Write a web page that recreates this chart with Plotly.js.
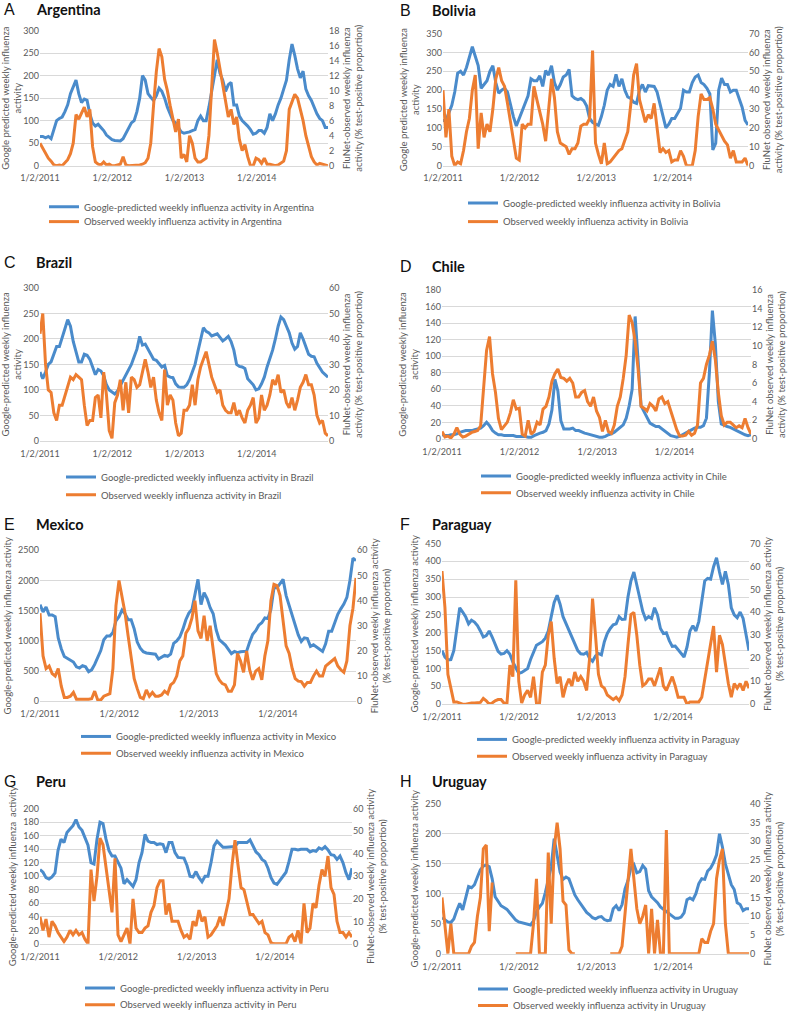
<!DOCTYPE html>
<html><head><meta charset="utf-8">
<script src="https://cdn.plot.ly/plotly-3.0.1.min.js"></script>
<style>html,body{margin:0;padding:0;background:#fff}#chart{width:789px;height:1020px}</style>
</head><body><div id="chart"></div>
<script>
// ---- x categories: biweekly dates ----
const START_DATE = '2011-01-02';
const STEP_DAYS = 14;
const N_POINTS = 105;
const weeks = [];
for (let i = 0; i < N_POINTS; i++) {
  weeks.push(new Date(Date.parse(START_DATE + 'T00:00:00Z') + i * STEP_DAYS * 864e5).toISOString().slice(0, 10));
}
const tickVals = ['2011-01-02', '2012-01-02', '2013-01-02', '2014-01-02'];
const tickText = ['1/2/2011', '1/2/2012', '1/2/2013', '1/2/2014'];

// ---- data ----
const argG = [65,65,62,65,60,80,100,105,108,120, 135,160,175,190,160,140,148,145,115,95, 88,92,85,78,68,62,58,56,56,55, 60,72,85,95,100,120,150,200,190,160, 152,145,155,172,165,150,130,115,100,95, 85,75,72,73,75,78,80,100,110,100, 100,130,165,200,235,205,190,165,180,185, 135,135,110,100,95,88,80,70,72,78, 78,72,85,115,100,115,135,150,170,190, 235,270,245,215,195,210,170,155,145,130, 115,105,100,85,85];
const argO = [3.0,2.3,1.8,1.0,0.6,0.1,0,0.1,0,0.4, 0.8,1.6,3.0,6.8,6.2,7.0,7.8,6.5,7.5,2.5, 0.5,0.2,0.1,0.5,0.1,0.2,0,0,0.1,0.2, 1.2,0.1,0,0,0,0.1,0.1,0.2,0.4,1.0, 3.0,8.0,12.5,15.6,14.5,11.5,10.0,8.0,6.0,4.5, 6.2,1.0,1.5,0.5,4.0,3.0,1.0,0.5,0.5,0.8, 1.0,4.0,11.0,16.8,15.0,13.0,11.0,9.0,6.5,7.5, 5.5,6.5,3.5,2.0,2.8,1.2,0,0,1.0,0.8, 0.3,1.0,0.2,0.2,0.1,0,0.1,0.3,0.6,2.0, 7.5,8.5,9.5,9.0,7.5,6.0,4.0,2.5,1.2,0.5, 0.1,0.3,0.2,0,0];

const bolG = [120,120,140,160,195,245,250,240,260,290, 315,290,265,205,215,225,250,265,220,192, 200,205,195,160,130,105,125,145,170,185, 230,225,225,238,210,252,240,265,220,200, 215,235,240,255,185,178,175,178,172,158, 125,115,110,107,130,160,200,215,210,242, 210,230,200,182,178,168,165,200,215,195, 212,210,210,195,165,130,100,110,125,125, 138,152,200,195,195,220,235,240,220,215, 205,190,42,60,200,232,215,215,195,200, 200,175,155,120,108];
const bolO = [40,15,30,5,0,2,1,8,18,25, 40,48,9,28,15,22,18,30,46,52, 45,42,33,24,14,4,3,22,20,22, 22,42,35,28,22,13,28,46,36,18, 12,11,10,6,9,9,12,21,22,22, 25,61,12,6,1,12,1,2,4,6, 8,9,13,18,32,48,54,35,29,23, 27,25,33,20,7,9,7,8,2,3, 3,8,5,0,0,0,8,26,38,35, 35,36,30,22,19,16,13,11,4,8, 2,2,2,4,0];

const braG = [135,122,135,150,155,170,185,185,205,220, 238,225,195,175,155,155,170,168,160,145, 130,140,137,128,110,100,95,92,98,108, 120,128,138,150,165,180,205,188,190,180, 170,160,158,152,145,148,128,125,124,112, 106,105,105,110,120,135,150,175,200,222, 215,212,206,208,210,203,196,200,205,195, 178,150,146,145,142,122,115,110,100,102, 112,125,145,160,178,200,225,243,238,225, 212,192,180,185,212,200,185,170,166,165, 152,142,135,130,125];
const braO = [42,50,30,20,19,11,8,14,14,18, 22,25,24,26,25,24,14,6,8,8, 17,18,9,27,18,4,1,15,18,24, 12,23,11,25,24,21,22,27,32,27, 21,25,16,11,8,28,14,18,16,7, 2,3,12,12,14,22,14,24,29,32, 35,30,25,22,19,20,14,12,11,11, 15,10,12,9,7,12,14,17,7,9, 18,12,14,18,24,22,26,19,20,15, 13,17,12,16,21,23,26,22,22,18, 10,7,8,3,2];

const chiG = [5,4,4,5,5,6,8,9,10,10, 10,11,12,13,16,20,16,10,7,5, 5,4,4,4,4,3,3,3,3,2, 2,4,6,7,8,10,18,35,72,58, 22,12,12,12,13,10,10,8,7,6, 5,4,3,2,2,3,5,6,8,11, 13,17,25,40,60,148,95,40,33,25, 19,17,15,15,12,9,6,4,3,2, 3,5,8,10,12,13,14,14,16,25, 80,155,115,45,18,16,15,14,12,10, 8,6,5,4,5];
const chiO = [0.8,0.2,0.3,0.1,0.5,1.2,0.5,0.2,0.3,0.5, 0.7,0.8,0.9,1.4,5.5,9.5,11.0,7.0,5.0,2.2, 1.0,1.4,1.8,2.8,4.2,3.2,3.3,0.5,0.3,2.0, 0.5,0.8,1.8,1.5,3.2,3.5,4.5,6.2,7.0,7.5, 6.6,6.5,6.2,6.5,6.0,4.5,4.5,5.0,5.2,4.0, 3.5,4.5,3.0,2.3,0.8,2.0,0.8,0.6,1.5,3.5, 4.5,6.5,9.0,13.3,12.5,10.5,7.5,3.5,3.3,3.0, 3.8,3.5,3.0,4.3,4.5,3.8,4.0,3.0,2.0,1.0, 0.3,0.3,0.4,0.8,0.4,0.6,1.5,6.0,6.5,8.0, 9.0,10.5,8.5,5.0,2.5,1.5,1.8,1.8,1.5,1.2, 1.4,1.2,2.2,1.2,0.5];

const mexG = [1600,1480,1560,1430,1430,1400,1050,870,740,710, 670,650,570,550,590,570,490,520,610,740, 840,1020,1080,1080,1140,1330,1400,1510,1450,1350, 1350,1200,980,880,820,800,790,790,780,700, 730,760,745,780,960,1000,1065,1190,1350,1460, 1520,1800,2020,1600,1800,1700,1550,1450,1180,1020, 980,930,860,790,825,805,820,830,830,980, 1110,1170,1260,1300,1380,1370,1520,1880,1880,1950, 2020,1750,1590,1400,1240,1100,990,1050,1040,910, 935,900,855,825,950,1160,1160,1300,1440,1530, 1610,1720,2000,2370,2330];
const mexO = [35,18,13,14,11,10,13,6,1.5,1.5, 2,3.5,0.8,0.8,0.5,0.8,0.8,1,4,0.5, 0.5,2,2.5,3,13,38,48,42,35,26, 17,9,5,1.5,1,4.5,2,3.5,2,2, 2.5,4,3,6.5,7.5,10,16,18,27,29, 33,40,28,25,34,24,30,20,11,8.5, 7,6.5,4,4,6.5,19,16,11.5,20,12.5, 8.5,12,13,8.5,18,24,40,46.5,46,42, 31,22,19,13,9,8,7.8,6,7.5,7.5, 10,12,10,10,14,15,16,17,14,12.5, 11.5,16,30,37,49];

const parG = [150,132,124,125,150,215,270,258,245,225, 235,230,220,205,188,192,205,188,170,148, 140,142,150,140,118,100,86,89,95,100, 125,148,165,170,175,185,205,245,285,305, 280,245,225,205,190,168,150,141,140,145, 128,120,135,142,138,175,198,212,222,225, 245,237,238,300,345,370,335,292,260,238, 245,240,270,250,212,198,200,178,162,163, 153,140,132,160,205,220,205,232,285,345, 352,350,385,410,370,335,372,335,270,250, 242,258,240,198,150];
const parO = [58,42,13,7,1,1,0.5,0,0,0.3, 0.5,0.5,0.5,0.8,2.5,1.5,0,0.5,1.5,2, 2,0.5,0.3,17,12,54,10,0.5,4,6, 3,12,0.5,0,14,17,30,36,20,9, 12,3,8,11,8,14,10,12,10,6, 20,46,30,13,8,7,4,3,2,3, 1.5,4,12,26,39,40,30,17,8,9, 11,11,8,12,16,8,6,9,12,8, 3,3,3,0,1,1,1,1,3,11, 20,26,34,14,30,26,17,9,3,9, 7,9,6,10,7];

const peruG = [110,106,98,96,99,105,138,155,150,165, 170,175,184,173,168,158,146,120,118,155, 180,178,155,138,130,130,122,112,89,95, 90,85,95,120,135,162,152,150,150,147, 148,147,135,150,150,135,128,127,127,116, 100,99,107,98,92,100,100,120,145,152, 147,143,143,143,143,144,150,150,150,150, 154,145,136,132,125,122,112,98,90,88, 94,99,106,122,140,140,139,140,140,140, 136,138,137,142,140,144,139,132,131,125, 130,120,105,95,112];
const peruO = [12,6,11,3,10,8,5,3,1,3, 6,4,6,4,5,2,0,33,19,30, 47,44,35,24,14,38,4,1,4,7, 0,20,7,5,5,7,8,14,17,25, 28,28,13,18,10,10,10,6,3,4, 2,10,8,15,10,12,3,4,6,8, 12,8,14,20,35,46,35,25,24,18, 13,13,11,9,10,5,4,0.5,0,0, 0,0,0,3,4,1,6,0,18,5, 7,18,16,26,33,30,39,25,22,10, 5,5,3,5,3];

const uruG = [60,57,53,52,58,72,84,73,92,112, 110,115,128,140,146,148,145,125,95,87, 80,77,74,68,62,56,53,52,51,49, 48,55,70,78,84,102,122,145,192,165, 136,124,128,125,112,98,90,83,77,69, 65,60,58,61,62,57,55,56,75,80, 72,82,108,122,144,149,135,137,147,141, 105,95,90,85,78,74,70,66,62,59, 59,61,68,90,93,90,100,117,125,124, 138,143,152,165,200,178,150,130,115,107, 85,82,72,75,75];
const uruO = [15,7,0,8,0,0,0,0,0,0, 2,3,10,15,28,29,6,19,null,null, null,null,null,null,null,0,0,0,0,0, 0,8,20,0,0,0,27,8,28,35, 28,14,13,1,0,0,null,null,null,null, null,null,null,null,null,null,null,0,0,0, 0,2,10,20,28,20,12,8,10,13, 0,12,0,9,0,0,33,0,0,0, 0,0,0,0,0,0,0,0,4,3, 3,6,8,20,25,28,8,0,0,0, 0,0,0,0,0];

const countries = ['Argentina','Bolivia','Brazil','Chile','Mexico','Paraguay','Peru','Uruguay'];
const letters = ['A','B','C','D','E','F','G','H'];
const googleSeries = [argG, bolG, braG, chiG, mexG, parG, peruG, uruG];
const observedSeries = [argO, bolO, braO, chiO, mexO, parO, peruO, uruO];

// axis ranges / steps
const leftMax  = [300, 350, 300, 180, 2500, 450, 200, 250];
const leftStep = [50, 50, 50, 20, 500, 50, 20, 50];
const rightMax = [18, 70, 60, 16, 60, 70, 60, 40];
const rightStep= [2, 10, 10, 2, 10, 10, 10, 5];
const leftTitles = [
  'Google predicted weekly influenza<br>activity',
  'Google predicted weekly influenza<br>activity',
  'Google-predicted weekly influenza<br>activity',
  'Google-predicted weekly influenza<br>activity',
  'Google-predicted weekly influenza activity',
  'Google-predicted weekly influenza activity',
  'Google-predicted weekly influenza  activity',
  'Google-predicted weekly influenza activity'
];
const rightTitles = [
  'FluNet-observed weekly influenza<br>activity (% test-positive proportion)',
  'FluNet observed weekly influenza<br>activity (% test-positive proportion)',
  'FluNet-observed weekly influenza<br>activity (% test-positive proportion)',
  'FluNet observed weekly influenza<br>activity (% test-positive proportion)',
  'FluNet-observed weekly influenza activity<br>(% test-positive proportion)',
  'FluNet observed weekly influenza activity<br>(% test-positive proportion)',
  'FluNet-observed weekly influenza activity<br>(% test-positive proportion)',
  'FluNet observed weekly influenza activity<br>(% test-positive proportion)'
];

// ---- layout geometry (pixels) ----
const W = 789, H = 1020;
const geo = [
  {x0:40,  x1:328, yt:31,  yb:168, tx:2,   ty:10,  lx:89,  ly1:205, ly2:220},
  {x0:443, x1:748, yt:34,  yb:168, tx:398, ty:11,  lx:508, ly1:201, ly2:220},
  {x0:40,  x1:328, yt:292, yb:447, tx:2,   ty:266, lx:106, ly1:479, ly2:497},
  {x0:442, x1:751, yt:294, yb:445, tx:398, ty:270, lx:521, ly1:478, ly2:495},
  {x0:40,  x1:356, yt:558, yb:711, tx:2,   ty:532, lx:121, ly1:742, ly2:759},
  {x0:442, x1:749, yt:551, yb:714, tx:398, ty:532, lx:517, ly1:745, ly2:762},
  {x0:40,  x1:352, yt:820, yb:957, tx:2,   ty:792, lx:125, ly1:997, ly2:1014},
  {x0:442, x1:749, yt:815, yb:967, tx:398, ty:792, lx:518, ly1:998, ly2:1015}
];

const BLUE = '#4a8bcb', ORANGE = '#ed7d31';
const FONT = 'Lato, "Open Sans", sans-serif';
const GREY = '#595959';

const traces = [];
const layout = {
  width: W, height: H,
  margin: {l:0, r:0, t:0, b:0},
  paper_bgcolor: '#fff', plot_bgcolor: 'rgba(0,0,0,0)',
  font: {family: FONT, color: GREY, size: 9},
  annotations: [],
  showlegend: true
};

function legendBox(x, yc) {
  return {
    x: (x - 45) / W, y: 1 - (yc - 10) / H, xanchor: 'left', yanchor: 'top',
    bgcolor: 'rgba(0,0,0,0)', borderwidth: 0, font: {size: 9.5, color: GREY, family: FONT},
    tracegroupgap: 0, itemwidth: 30
  };
}

for (let k = 0; k < 8; k++) {
  const g = geo[k];
  const xName = k === 0 ? 'x' : 'x' + (k + 1);
  const yL = 'y' + (2 * k + 1 === 1 ? '' : 2 * k + 1);
  const yR = 'y' + (2 * k + 2);
  const legA = 2 * k + 1 === 1 ? 'legend' : 'legend' + (2 * k + 1);
  const legB = 'legend' + (2 * k + 2);

  traces.push({
    type: 'scatter', mode: 'lines', x: weeks, y: googleSeries[k],
    xaxis: xName, yaxis: yL, legend: legA,
    name: 'Google-predicted weekly influenza activity in ' + countries[k],
    line: {color: BLUE, width: 3}, hoverinfo: 'skip'
  });
  traces.push({
    type: 'scatter', mode: 'lines', x: weeks, y: observedSeries[k],
    xaxis: xName, yaxis: yR, legend: legB, connectgaps: false,
    name: 'Observed weekly influenza activity in ' + countries[k],
    line: {color: ORANGE, width: 3}, hoverinfo: 'skip'
  });

  const xKey = k === 0 ? 'xaxis' : 'xaxis' + (k + 1);
  const yLKey = 'yaxis' + (2 * k + 1 === 1 ? '' : 2 * k + 1);
  const yRKey = 'yaxis' + (2 * k + 2);
  const dom = [1 - g.yb / H, 1 - g.yt / H];

  layout[xKey] = {
    domain: [g.x0 / W, g.x1 / W], anchor: yL, type: 'date',
    range: [weeks[0], weeks[weeks.length - 1]],
    tickmode: 'array', tickvals: tickVals, ticktext: tickText,
    showgrid: false, zeroline: false, showline: true, linecolor: '#d9d9d9', linewidth: 1,
    ticks: '', ticklabelstandoff: 4, tickfont: {size: 9, color: GREY, family: FONT}, automargin: false
  };
  layout[yLKey] = {
    domain: dom, anchor: xName, range: [0, leftMax[k]], dtick: leftStep[k], tick0: 0,
    showgrid: true, gridcolor: '#d9d9d9', gridwidth: 1, zeroline: false, showline: false,
    ticks: '', tickfont: {size: 9, color: GREY, family: FONT}, automargin: false,
    title: {text: leftTitles[k], font: {size: 9.5, color: GREY, family: FONT}, standoff: 4}
  };
  layout[yRKey] = {
    overlaying: yL, side: 'right', anchor: xName, range: [0, rightMax[k]], dtick: rightStep[k], tick0: 0,
    showgrid: false, zeroline: false, showline: false,
    ticks: '', tickfont: {size: 9, color: GREY, family: FONT}, automargin: false,
    title: {text: rightTitles[k], font: {size: 9.5, color: GREY, family: FONT}, standoff: 4}
  };
  layout[legA] = legendBox(g.lx, g.ly1);
  layout[legB] = legendBox(g.lx, g.ly2);

  layout.annotations.push({
    xref: 'paper', yref: 'paper', x: g.tx / W, y: 1 - g.ty / H, xanchor: 'left', yanchor: 'middle',
    text: letters[k], showarrow: false, font: {size: 16, color: '#111', family: '"Liberation Sans", Arial, sans-serif'}
  });
  layout.annotations.push({
    xref: 'paper', yref: 'paper', x: (g.tx + 32) / W, y: 1 - g.ty / H, xanchor: 'left', yanchor: 'middle',
    text: '<b>' + countries[k] + '</b>', showarrow: false, font: {size: 14.5, color: '#111', family: FONT}
  });
}

Plotly.newPlot('chart', traces, layout, {staticPlot: true, displayModeBar: false});
</script>
</body></html>
